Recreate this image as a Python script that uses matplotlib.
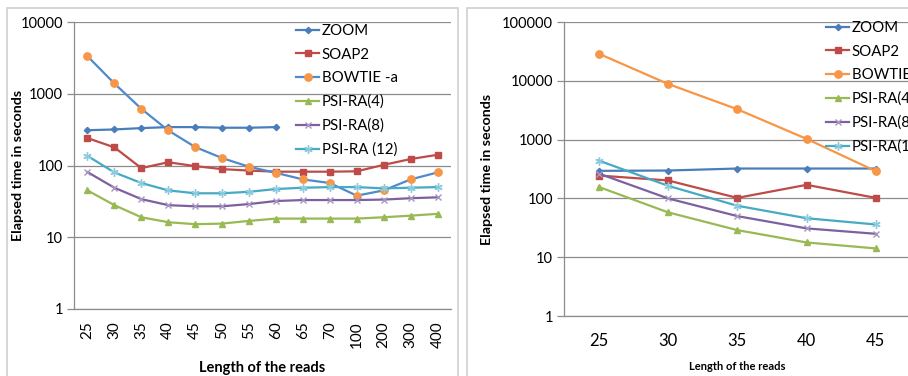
import matplotlib
matplotlib.use("Agg")
import matplotlib.pyplot as plt
from matplotlib.patches import Rectangle
import numpy as np

plt.rcParams['font.family'] = ['Lato', 'DejaVu Sans']

# ---- data: left chart ----
left_cats = ["25", "30", "35", "40", "45", "50", "55", "60", "65", "70", "100", "200", "300", "400"]
left_zoom = [310, 318, 332, 343, 343, 336, 336, 343]
left_soap2 = [241, 179, 92, 111, 98, 89, 85, 82, 82, 82, 83, 102, 123, 141]
left_bowtie = [3333, 1390, 617, 308, 181, 127, 96, 79, 64, 57, 38, 45, 64, 80]
left_psi4 = [45, 28, 19, 16.2, 15.2, 15.5, 16.9, 18.2, 18.2, 18.2, 18.2, 19, 20, 21.2]
left_psi8 = [81, 49, 34, 28, 27, 27, 29, 32, 33, 33, 33, 33.5, 35, 36]
left_psi12 = [136, 80, 57, 45, 41, 41, 43, 47, 49, 50, 50, 48, 49, 50]

# ---- data: right chart ----
right_cats = ["25", "30", "35", "40", "45"]
right_zoom = [294, 298, 322, 322, 322]
right_soap2 = [245, 202, 102, 170, 102]
right_bowtie = [28970, 8850, 3284, 1029, 290]
right_psi4 = [157, 58, 28.9, 17.8, 14.1]
right_psi8 = [265, 100, 50, 30.9, 25]
right_psi12 = [441, 164, 75, 46, 36]

labels_left = ["ZOOM", "SOAP2", "BOWTIE -a", "PSI-RA(4)", "PSI-RA(8)", "PSI-RA (12)"]
labels_right = ["ZOOM", "SOAP2", "BOWTIE -a", "PSI-RA(4)", "PSI-RA(8)", "PSI-RA(12)"]

C_BLUE = "#4A7EBB"
C_RED = "#BE4B48"
C_ORANGE = "#F79646"
C_BOWBLUE = "#4F8ACB"
C_GREEN = "#98B954"
C_PURPLE = "#7D60A0"
C_CYAN = "#46AAC5"
GRID = "#8C8C8C"

W, H = 908, 376
fig = plt.figure(figsize=(W / 100, H / 100), dpi=100)

# panel borders
fig.patches.append(Rectangle((7 / W, -0.05), (458 - 7) / W, 1 - 8 / H + 0.05,
                             transform=fig.transFigure, fill=False, edgecolor="#D0D0D0", lw=1.2))
fig.patches.append(Rectangle((467 / W, -0.05), 0.6, 1 - 8 / H + 0.05,
                             transform=fig.transFigure, fill=False, edgecolor="#D0D0D0", lw=1.2))


def style_axes(ax, ymax_exp, n):
    ax.set_yscale("log")
    ax.set_ylim(1, 10 ** ymax_exp)
    ax.set_xlim(-0.5, n - 0.5)
    ticks = [10 ** k for k in range(0, ymax_exp + 1)]
    ax.set_yticks(ticks)
    ax.set_yticklabels([str(t) for t in ticks])
    ax.yaxis.set_minor_locator(matplotlib.ticker.NullLocator())
    for t in ticks:
        ax.axhline(t, color=GRID, lw=0.9, zorder=0)
    ax.spines["top"].set_visible(False)
    ax.spines["right"].set_visible(False)
    ax.spines["left"].set_color(GRID)
    ax.spines["bottom"].set_color(GRID)
    ax.spines["left"].set_linewidth(0.9)
    ax.spines["bottom"].set_linewidth(0.9)
    ax.tick_params(axis="y", length=5, color=GRID, width=0.9, labelsize=10.5, pad=3)
    ax.tick_params(axis="x", length=0)
    ax.patch.set_alpha(0)


def plot_series(ax, n, zoom, soap2, bowtie, psi4, psi8, psi12, bow_line, labels):
    x = np.arange(n)
    h = []
    h += ax.plot(x[:len(zoom)], zoom, color=C_BLUE, lw=1.6, marker="D", ms=3.2, mfc=C_BLUE, mec=C_BLUE, label=labels[0])
    h += ax.plot(x, soap2, color=C_RED, lw=1.6, marker="s", ms=4.8, mfc=C_RED, mec=C_RED, label=labels[1])
    h += ax.plot(x, bowtie, color=bow_line, lw=1.6, marker="o", ms=5.3, mfc=C_ORANGE, mec=C_ORANGE, label=labels[2])
    h += ax.plot(x, psi4, color=C_GREEN, lw=1.6, marker="^", ms=5, mfc=C_GREEN, mec=C_GREEN, label=labels[3])
    h += ax.plot(x, psi8, color=C_PURPLE, lw=1.6, marker="x", ms=5, mec="#A796C2", mew=1.0, label=labels[4])
    h += ax.plot(x, psi12, color=C_CYAN, lw=1.6, marker=(6, 2, 0), ms=6, mec="#8CCBDD", mew=1.0, label=labels[5])
    return h


# ---- left chart ----
axL = fig.add_axes([74 / W, 1 - 309 / H, (451 - 74) / W, (309 - 22) / H])
style_axes(axL, 4, len(left_cats))
hL = plot_series(axL, len(left_cats), left_zoom, left_soap2, left_bowtie, left_psi4,
                 left_psi8, left_psi12, C_BOWBLUE, labels_left)
axL.set_xticks(np.arange(len(left_cats)))
axL.set_xticklabels(left_cats, rotation=90, fontsize=11)
axL.tick_params(axis="x", pad=9)
axL.set_ylabel("Elapsed time in seconds", fontsize=10.3, fontweight="bold")
axL.yaxis.set_label_coords(-(74 - 24) / 377, 0.5)
axL.set_xlabel("Length of the reads", fontsize=10.5, fontweight="bold")
axL.xaxis.set_label_coords(0.5, -(368 - 309) / 287)
axL.xaxis.label.set_va("center")
axL.legend(handles=hL, loc="upper left", bbox_to_anchor=(296 / W, 1 - 24 / H),
           bbox_transform=fig.transFigure, frameon=False, fontsize=10.8,
           handlelength=1.55, handletextpad=0.15, labelspacing=0.64, borderaxespad=0,
           borderpad=0, markerscale=1.0)

# ---- right chart ----
axR = fig.add_axes([564 / W, 1 - 316 / H, (910.5 - 564) / W, (316 - 22) / H])
style_axes(axR, 5, len(right_cats))
hR = plot_series(axR, len(right_cats), right_zoom, right_soap2, right_bowtie, right_psi4,
                 right_psi8, right_psi12, C_ORANGE, labels_right)
axR.set_xticks(np.arange(len(right_cats)))
axR.set_xticklabels(right_cats, fontsize=12)
axR.tick_params(axis="x", pad=12)
axR.set_ylabel("Elapsed time in seconds", fontsize=10.3, fontweight="bold")
axR.yaxis.set_label_coords(-(564 - 493) / 346.5, 0.5)
axR.set_xlabel("Length of the reads", fontsize=8, fontweight="bold")
axR.xaxis.set_label_coords((737 - 564) / 346.5, -(367 - 316) / 294)
axR.xaxis.label.set_va("center")
axR.legend(handles=hR, loc="upper left", bbox_to_anchor=(826 / W, 1 - 21 / H),
           bbox_transform=fig.transFigure, frameon=False, fontsize=10.8,
           handlelength=1.55, handletextpad=0.15, labelspacing=0.64, borderaxespad=0,
           borderpad=0, markerscale=1.0)

fig.savefig("out.png", dpi=100)
